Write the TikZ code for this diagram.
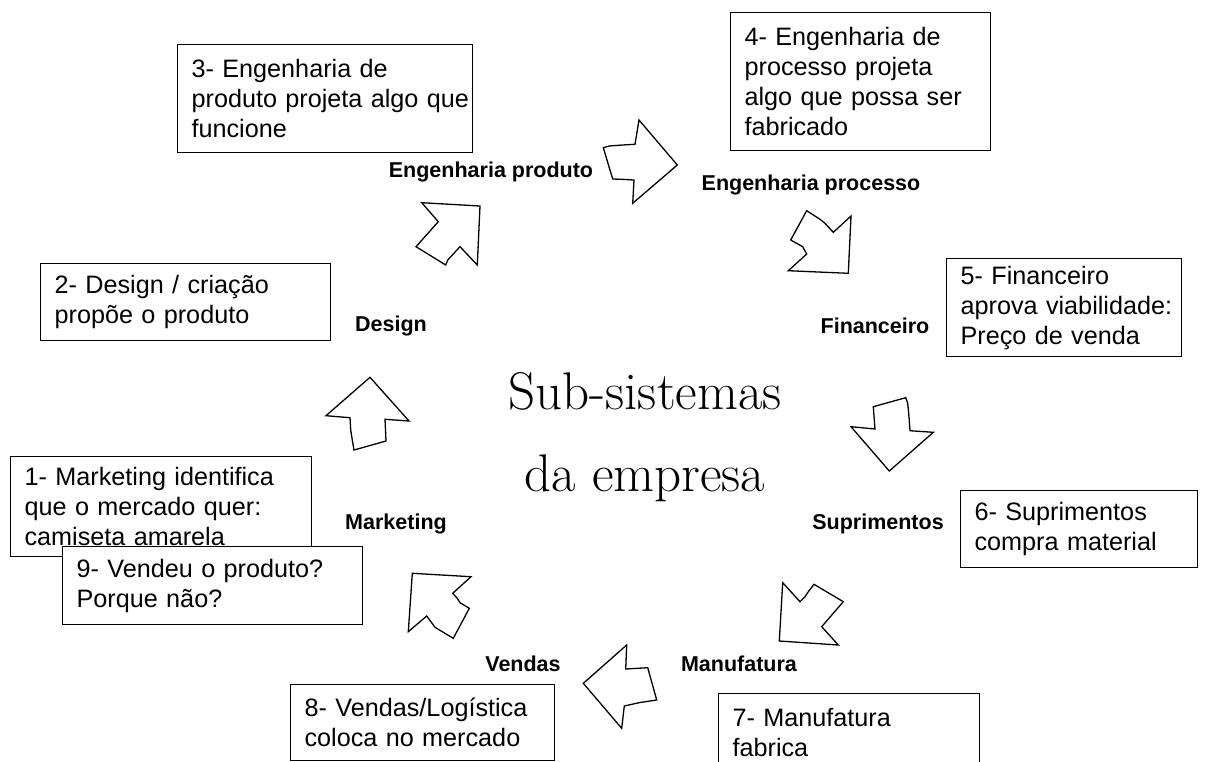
\documentclass[tikz,border=0pt]{standalone}
\usepackage{fontspec}
\newfontfamily\arialfont{Liberation Sans}
\newcommand{\boxfont}{\arialfont\fontsize{25.2}{30}\selectfont}
\newcommand{\subsysfont}{\arialfont\bfseries\fontsize{21.5}{25}\selectfont}

\begin{document}
\begin{tikzpicture}[x=1pt,y=-1pt,
  txtbox/.style={draw,fill=white,line width=1.2pt,anchor=north west,inner sep=0pt,
    align=left,font=\boxfont,execute at begin node={\leftskip=14pt\rightskip=-30pt plus 1fil}},
  subsys/.style={font=\subsysfont,inner sep=1pt},
  blockarrow/.style={draw,line width=1.3pt,line join=miter}]
\clip (0,0) rectangle (1211,761);

% centre title
\node[font=\fontsize{53}{82}\selectfont,align=center] (title) at (645,437) {Sub-sistemas\\da empresa};

% text boxes
\node[txtbox,text width=301,minimum height=100] (box1) at (10,456) {1- Marketing identifica\\que o mercado quer:\\camiseta amarela};
\node[txtbox,text width=300,minimum height=78] (box9) at (62,546) {9- Vendeu o produto?\\Porque não?};
\node[txtbox,text width=290,minimum height=77] (box2) at (40,263) {2- Design / criação\\propõe o produto};
\node[txtbox,text width=295,minimum height=108] (box3) at (177,44) {3- Engenharia de\\produto projeta algo que\\funcione};
\node[txtbox,text width=260,minimum height=138] (box4) at (730,12) {4- Engenharia de\\processo projeta\\algo que possa ser\\fabricado};
\node[txtbox,text width=235,minimum height=98] (box5) at (946,258) {5- Financeiro\\aprova viabilidade:\\Preço de venda};
\node[txtbox,text width=237,minimum height=77] (box6) at (960,490) {6- Suprimentos\\compra material};
\node[txtbox,text width=261,minimum height=77] (box7) at (718,693) {7- Manufatura\\fabrica};
\node[txtbox,text width=264,minimum height=76] (box8) at (290,684) {8- Vendas/Logística\\coloca no mercado};

% sub-system names
\node[subsys] (marketing) at (396,524) {Marketing};
\node[subsys] (design) at (391,326) {Design};
\node[subsys] (engproduto) at (491,172) {Engenharia produto};
\node[subsys] (engprocesso) at (811,185) {Engenharia processo};
\node[subsys] (financeiro) at (875,326) {Financeiro};
\node[subsys] (suprimentos) at (878,524) {Suprimentos};
\node[subsys] (manufatura) at (739,664) {Manufatura};
\node[subsys] (vendas) at (523,664) {Vendas};

% hand drawn block arrows
\draw[blockarrow] (370,377.3) -- (409,421) -- (385,419.3) -- (386,441) -- (354,450)
  -- (352.3,440) -- (350.7,430) -- (350,417.7) -- (326,415.7) -- cycle;
\draw[blockarrow] (421.7,202.7) -- (480,206) -- (477.3,265) -- (460,246.7) -- (447.7,260)
  -- (445.7,265) -- (416,246.7) -- (438.3,221.7) -- cycle;
\draw[blockarrow] (603.3,147.7) -- (609.3,146) -- (622.7,145) -- (635,144.3) -- (639,120)
  -- (677.3,165) -- (632.7,203.3) -- (634,180) -- (621.7,179.3) -- (612.7,179) -- cycle;
\draw[blockarrow] (806.7,210.7) -- (820,219.3) -- (825,223.3) -- (833.3,232.3) -- (851,216)
  -- (848.3,273.3) -- (788.3,270.7) -- (806.7,254) -- (802.7,246.7) -- (790.7,240) -- cycle;
\draw[blockarrow] (873.3,406.7) -- (905.7,397.7) -- (907.7,403.3) -- (909,416.7) -- (910,430.7)
  -- (933.3,432.3) -- (889.3,471) -- (851,426.7) -- (875,429) -- cycle;
\draw[blockarrow] (782.7,582.7) -- (800,601.7) -- (805,596.7) -- (808.3,591.7) -- (814,584.3)
  -- (843.3,601.7) -- (821.7,626.7) -- (838.3,645) -- (779.3,641) -- cycle;
\draw[blockarrow] (626.7,645) -- (625.7,669) -- (647.7,667.7) -- (656.7,700) -- (650,701)
  -- (639,702.7) -- (624.3,706) -- (621.7,728.3) -- (583.3,683.3) -- cycle;
\draw[blockarrow] (412.3,573.3) -- (471,576.7) -- (452.7,593.3) -- (457.3,598.3) -- (460,602.7)
  -- (469.3,608.3) -- (453.3,638.3) -- (435,627.3) -- (426.7,616) -- (408.3,631.7) -- cycle;
\end{tikzpicture}
\end{document}
